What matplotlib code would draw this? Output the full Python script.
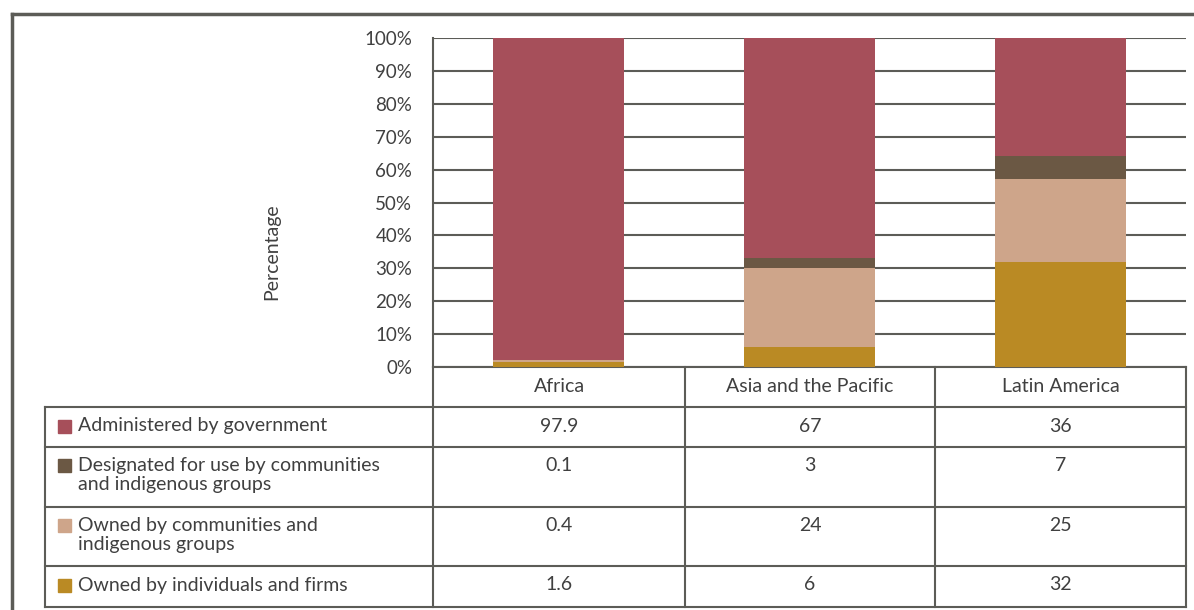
import matplotlib.pyplot as plt
from matplotlib.patches import Rectangle

regions = ["Africa", "Asia and the Pacific", "Latin America"]
series = ["Administered by government",
          "Designated for use by communities\nand indigenous groups",
          "Owned by communities and\nindigenous groups",
          "Owned by individuals and firms"]
government = [97.9, 67, 36]
designated = [0.1, 3, 7]
owned_comm = [0.4, 24, 25]
owned_indiv = [1.6, 6, 32]
colours = ["#a64f5a", "#6b5844", "#cea58a", "#ba8a24"]
yticks = [0, 10, 20, 30, 40, 50, 60, 70, 80, 90, 100]

plt.rcParams['font.family'] = ['Lato', 'DejaVu Sans']
txt = "#404040"
line = "#5c5c57"
W, H = 1194, 610
fs = 14

fig = plt.figure(figsize=(W / 100, H / 100), dpi=100)

# pixel-space overlay for frame + table
ov = fig.add_axes([0, 0, 1, 1], zorder=0)
ov.set_xlim(0, W)
ov.set_ylim(H, 0)
ov.axis("off")

# plot area
x0, x1, ytop, ybot = 433, 1186, 38, 367
ax = fig.add_axes([x0 / W, 1 - ybot / H, (x1 - x0) / W, (ybot - ytop) / H], zorder=2)
ax.patch.set_alpha(0)
pos = range(len(regions))
stack = [owned_indiv, owned_comm, designated, government]
stack_cols = colours[::-1]
bottom = [0, 0, 0]
for vals, c in zip(stack, stack_cols):
    ax.bar(pos, vals, bottom=bottom, width=0.52, color=c, zorder=3)
    bottom = [b + v for b, v in zip(bottom, vals)]
ax.set_xlim(-0.5, len(regions) - 0.5)
ax.set_ylim(0, 100)
ax.set_yticks(yticks)
ax.set_yticklabels([f"{t}%" for t in yticks])
ax.yaxis.grid(True, color=line, linewidth=1.5, zorder=1)
ax.set_xticks([])
ax.tick_params(axis="y", length=0, pad=15, labelsize=13.5, labelcolor=txt)
for s in ["top", "right", "bottom"]:
    ax.spines[s].set_visible(False)
ax.spines["left"].set_color(line)
ax.spines["left"].set_linewidth(1.5)

fig.text(272 / W, 1 - 252 / H, "Percentage", rotation=90, ha="center", va="center",
         fontsize=fs, color=txt)

# outer frame
ov.plot([12, W], [14, 14], color=line, lw=2.5)
ov.plot([12, 12], [14, H], color=line, lw=2.5)

# table
cols = [433, 685, 935, 1186]
rows = [407, 446.5, 506.5, 566, 607]
lw = 1.5
ov.plot([433, 1186], [367, 367], color=line, lw=lw)
for y in rows:
    ov.plot([45, 1186], [y, y], color=line, lw=lw)
ov.plot([45, 45], [407, 607], color=line, lw=lw)
for x in cols:
    ov.plot([x, x], [367, 607], color=line, lw=lw)
for i, r in enumerate(regions):
    ov.text((cols[i] + cols[i + 1]) / 2, 387, r, ha="center", va="center", fontsize=fs, color=txt)

table_vals = [government, designated, owned_comm, owned_indiv]
for k, (name, vals, c) in enumerate(zip(series, table_vals, colours)):
    ytxt = rows[k] + 19
    ov.add_patch(Rectangle((58, ytxt - 6.5), 13, 13, color=c))
    ov.text(78, ytxt - 8.5, name, ha="left", va="top", fontsize=fs, color=txt, linespacing=1.15)
    for i, v in enumerate(vals):
        ov.text((cols[i] + cols[i + 1]) / 2, ytxt, f"{v:g}", ha="center", va="center",
                fontsize=fs, color=txt)

fig.savefig("out.png", dpi=100)
